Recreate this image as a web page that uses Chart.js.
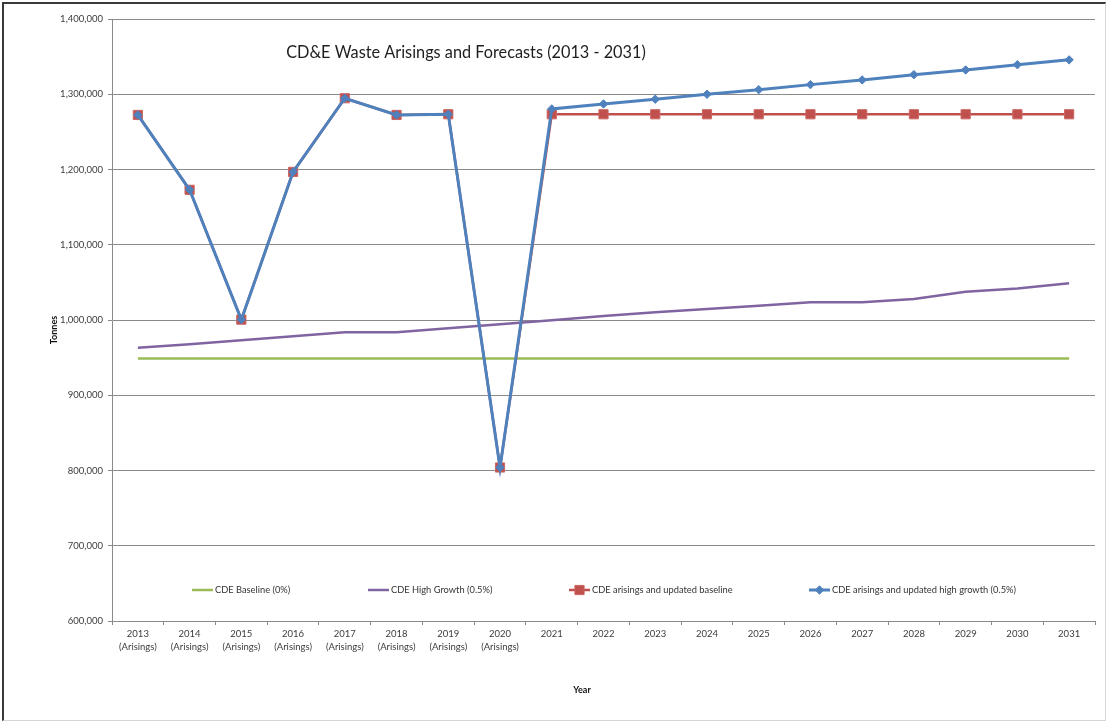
<!DOCTYPE html>
<html>
<head>
<meta charset="utf-8">
<title>CD&amp;E Waste Arisings and Forecasts (2013 - 2031)</title>
<script src="https://cdn.jsdelivr.net/npm/chart.js@4.4.1/dist/chart.umd.min.js"></script>
<style>
  html, body { margin: 0; padding: 0; background: #ffffff; }
  #wrap { position: relative; width: 1108px; height: 722px; overflow: hidden; }
  #frame {
    position: absolute; left: 2px; top: 2px; width: 1104px; height: 719px;
    box-sizing: border-box;
    border-top: 2px solid #3a3a3a; border-left: 2px solid #3a3a3a;
    border-right: 1px solid #d6d6d6; border-bottom: 1px solid #d6d6d6;
  }
  #chart { position: absolute; left: 0; top: 0; }
</style>
</head>
<body>
<div id="wrap">
  <div id="frame"></div>
  <canvas id="chart" width="1108" height="722"></canvas>
</div>
<script>
// Years on the horizontal axis; 2013-2020 are recorded arisings, the rest are forecasts
const years = ['2013', '2014', '2015', '2016', '2017', '2018', '2019', '2020', '2021', '2022',
               '2023', '2024', '2025', '2026', '2027', '2028', '2029', '2030', '2031'];
const arisingsNote = '(Arisings)';
const lastArisingsYear = '2020';

// Tonnes per year
const baselineFlat = [949000, 949000, 949000, 949000, 949000, 949000, 949000, 949000, 949000, 949000,
                      949000, 949000, 949000, 949000, 949000, 949000, 949000, 949000, 949000];
const highGrowth = [963200, 967700, 973000, 978300, 983600, 983600, 989000, 994300, 999600, 1005300,
                    1010200, 1014600, 1019000, 1023500, 1023500, 1027900, 1037600, 1042000, 1048700];
const arisingsBaseline = [1272500, 1173000, 1000500, 1196800, 1294700, 1272500, 1273400, 804000, 1273400, 1273400,
                          1273400, 1273400, 1273400, 1273400, 1273400, 1273400, 1273400, 1273400, 1273400];
const arisingsHighGrowth = [1272500, 1173000, 1000500, 1196800, 1294700, 1272500, 1273400, 804000, 1280500, 1287100,
                            1293400, 1300000, 1306100, 1312800, 1319000, 1326000, 1332300, 1339300, 1345700];

const seriesNames = ['CDE Baseline (0%)', 'CDE High Growth (0.5%)',
                     'CDE arisings and updated baseline', 'CDE arisings and updated high growth (0.5%)'];

const yMin = 600000;
const yMax = 1400000;
const yStep = 100000;

const chartTitle = 'CD&E Waste Arisings and Forecasts (2013 - 2031)';
const xAxisTitle = 'Year';
const yAxisTitle = 'Tonnes';

// Category labels: recorded years get a second line
const categoryLabels = years.map(y => (Number(y) <= Number(lastArisingsYear) ? [y, arisingsNote] : y));

const FONT = 'Lato, "Liberation Sans", sans-serif';
const GRID = '#8a8a8a';

// Title, axis titles and the in-plot legend
const annotations = {
  id: 'annotations',
  afterDatasetsDraw(chart) {
    const ctx = chart.ctx;
    ctx.save();
    ctx.fillStyle = '#1e1e1e';
    ctx.font = '16.3px ' + FONT;
    ctx.textAlign = 'center';
    ctx.textBaseline = 'alphabetic';
    ctx.fillText(chartTitle, 466, 58);

    ctx.fillStyle = '#111111';
    ctx.font = 'bold 9px ' + FONT;
    ctx.textBaseline = 'middle';
    ctx.fillText(xAxisTitle, 582, 690);
    ctx.save();
    ctx.translate(54, 330);
    ctx.rotate(-Math.PI / 2);
    ctx.fillText(yAxisTitle, 0, 0);
    ctx.restore();

    // legend entries laid out along one row inside the plot
    const legendX = [192, 368, 569, 809];
    const legendY = 590;
    ctx.font = '9.3px ' + FONT;
    ctx.textAlign = 'left';
    chart.data.datasets.forEach((ds, i) => {
      const x0 = legendX[i];
      ctx.strokeStyle = ds.borderColor;
      ctx.lineWidth = ds.borderWidth;
      ctx.beginPath();
      ctx.moveTo(x0, legendY);
      ctx.lineTo(x0 + 21, legendY);
      ctx.stroke();
      if (ds.pointRadius > 0) {
        ctx.fillStyle = ds.pointBackgroundColor;
        ctx.strokeStyle = ds.pointBorderColor;
        ctx.lineWidth = ds.pointBorderWidth;
        Chart.helpers.drawPoint(ctx, {
          pointStyle: ds.pointStyle,
          radius: ds.pointRadius,
          borderWidth: ds.pointBorderWidth,
          rotation: 0
        }, x0 + 10.5, legendY);
      }
      ctx.fillStyle = '#333333';
      ctx.fillText(ds.label, x0 + 23, legendY);
    });
    ctx.restore();
  }
};

new Chart(document.getElementById('chart'), {
  type: 'line',
  data: {
    labels: categoryLabels,
    datasets: [
      {
        label: seriesNames[0], data: baselineFlat,
        borderColor: '#9BBB59', borderWidth: 2.5, pointRadius: 0, order: 3
      },
      {
        label: seriesNames[1], data: highGrowth,
        borderColor: '#8064A2', borderWidth: 2.5, pointRadius: 0, order: 2
      },
      {
        label: seriesNames[2], data: arisingsBaseline,
        borderColor: '#C0504D', borderWidth: 2.5,
        pointStyle: 'rect', pointRadius: 6.5, pointBorderWidth: 1,
        pointBackgroundColor: '#C0504D', pointBorderColor: '#CC6662', order: 1
      },
      {
        label: seriesNames[3], data: arisingsHighGrowth,
        borderColor: '#4F81BD', borderWidth: 3,
        pointStyle: 'rectRot', pointRadius: 4.2, pointBorderWidth: 1,
        pointBackgroundColor: '#4F81BD', pointBorderColor: '#4F81BD', order: 0
      }
    ]
  },
  options: {
    responsive: false,
    devicePixelRatio: 1,
    animation: false,
    events: [],
    layout: { padding: { left: 0, top: 19, right: 13, bottom: 0 } },
    elements: { line: { tension: 0 } },
    plugins: {
      legend: { display: false },
      title: { display: false },
      tooltip: { enabled: false }
    },
    scales: {
      x: {
        type: 'category',
        offset: true,
        grid: {
          display: true, drawOnChartArea: false, drawTicks: true,
          tickLength: 4, color: GRID, offset: true
        },
        border: { display: true, color: GRID, width: 1 },
        ticks: {
          autoSkip: false, maxRotation: 0, minRotation: 0, padding: 2,
          color: '#3c3c3c',
          font: { family: FONT, size: 9.5, lineHeight: 1.4 }
        },
        afterFit(scale) { scale.height = 101; }
      },
      y: {
        min: yMin, max: yMax,
        grid: { color: GRID, lineWidth: 1, tickLength: 4, drawTicks: true },
        border: { display: true, color: GRID, width: 1 },
        ticks: {
          stepSize: yStep, padding: 5, color: '#3c3c3c',
          font: { family: FONT, size: 9.5 },
          callback: v => v.toLocaleString('en-US')
        },
        afterFit(scale) { scale.width = 112; }
      }
    }
  },
  plugins: [annotations]
});
</script>
</body>
</html>
